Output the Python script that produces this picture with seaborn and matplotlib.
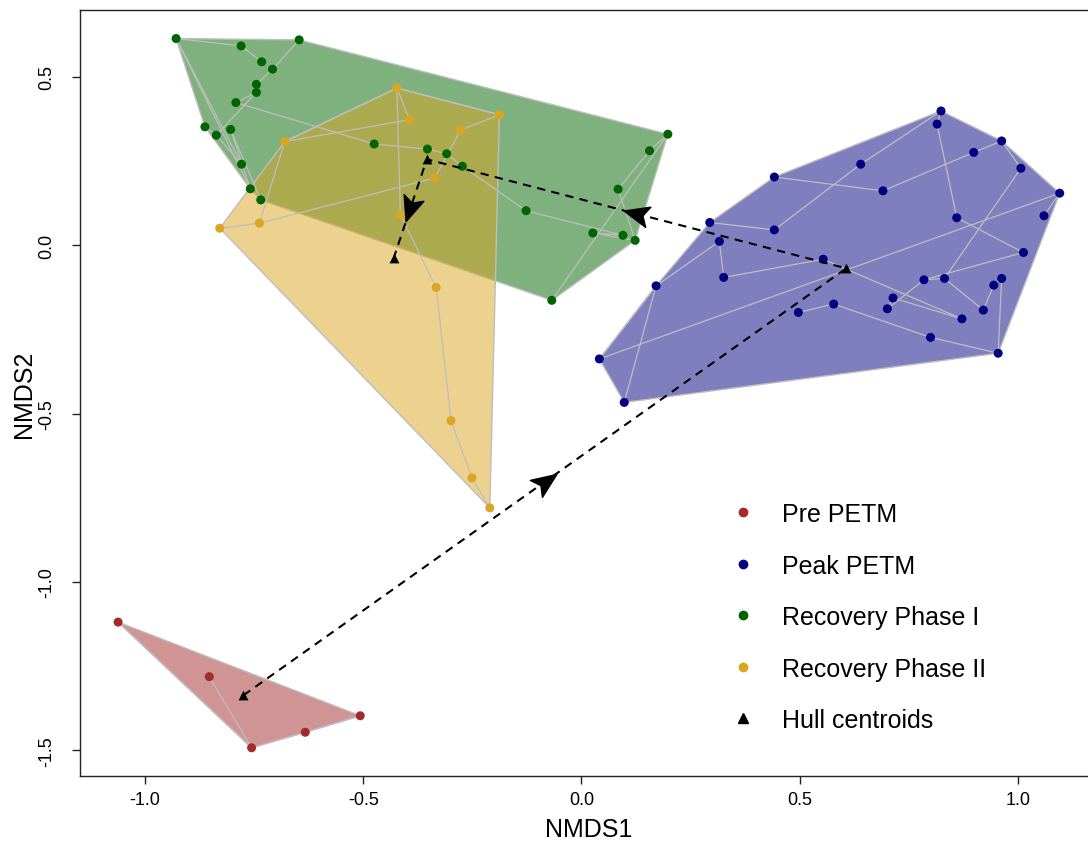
import numpy as np
import pandas as pd
import matplotlib
matplotlib.use("Agg")
import matplotlib.pyplot as plt
import seaborn as sns
from matplotlib.lines import Line2D
from matplotlib.markers import MarkerStyle
from matplotlib.path import Path
from matplotlib.transforms import Affine2D
from matplotlib.colors import to_rgba

# ---------------- data ----------------
groups = ["Pre PETM", "Peak PETM", "Recovery Phase I", "Recovery Phase II"]
colors = ["#A52A2A", "#000080", "#006400", "#DAA520"]

pre_x = [-1.062, -0.853, -0.756, -0.633, -0.507]
pre_y = [-1.119, -1.281, -1.492, -1.446, -1.397]
pre_edges = [(1, 2), (2, 3), (3, 4), (0, 2)]

peak_x = [0.041, 0.098, 0.171, 0.294, 0.316, 0.326, 0.442, 0.442, 0.554, 0.497,
          0.578, 0.824, 0.815, 0.963, 0.899, 1.007, 0.640, 0.691, 1.096, 1.060,
          0.860, 1.013, 0.785, 0.832, 0.963, 0.945, 0.714, 0.701, 0.921, 0.872,
          0.800, 0.955]
peak_y = [-0.338, -0.467, -0.121, 0.067, 0.011, -0.096, 0.202, 0.045, -0.042, -0.200,
          -0.175, 0.398, 0.359, 0.309, 0.275, 0.228, 0.240, 0.161, 0.154, 0.087,
          0.081, -0.022, -0.103, -0.099, -0.099, -0.119, -0.157, -0.189, -0.193, -0.219,
          -0.274, -0.321]
peak_edges = [(3, 7), (7, 16), (6, 17), (16, 11), (11, 12), (12, 20), (20, 21),
              (21, 22), (22, 27), (26, 29), (17, 14), (14, 13), (13, 15), (15, 23),
              (23, 28), (28, 25), (24, 31), (18, 19), (18, 0), (8, 29), (10, 30),
              (30, 31), (9, 10), (5, 8), (4, 5), (2, 4), (1, 2), (24, 25), (26, 27),
              (22, 23), (0, 2)]

rec1_x = [-0.929, -0.780, -0.647, -0.733, -0.708, -0.745, -0.745, -0.792, -0.863, -0.837,
          -0.804, -0.475, -0.779, -0.759, -0.735, -0.353, -0.309, -0.273, -0.127, 0.198,
          0.156, 0.084, 0.026, 0.095, 0.123, -0.068]
rec1_y = [0.613, 0.591, 0.609, 0.544, 0.522, 0.477, 0.453, 0.423, 0.351, 0.326,
          0.343, 0.300, 0.240, 0.167, 0.134, 0.285, 0.271, 0.234, 0.102, 0.329,
          0.280, 0.166, 0.036, 0.029, 0.014, -0.164]
rec1_edges = [(0, 1), (1, 3), (2, 4), (4, 5), (5, 6), (6, 7), (6, 9), (7, 11),
              (11, 15), (0, 12), (9, 12), (8, 9), (10, 13), (10, 14), (0, 13),
              (15, 16), (16, 17), (17, 18), (18, 23), (22, 23), (22, 24), (21, 24),
              (20, 21), (19, 20), (19, 25)]

rec2_x = [-0.423, -0.394, -0.680, -0.188, -0.277, -0.336, -0.415, -0.829, -0.738,
          -0.333, -0.299, -0.251, -0.210]
rec2_y = [0.466, 0.372, 0.307, 0.387, 0.341, 0.199, 0.090, 0.050, 0.065,
          -0.126, -0.521, -0.691, -0.780]
rec2_edges = [(0, 1), (0, 2), (0, 3), (3, 4), (4, 5), (5, 8), (0, 6), (6, 9),
              (9, 10), (10, 11), (11, 12), (7, 8), (2, 8), (1, 2)]

xs = [pre_x, peak_x, rec1_x, rec2_x]
ys = [pre_y, peak_y, rec1_y, rec2_y]
edges = [pre_edges, peak_edges, rec1_edges, rec2_edges]

df = pd.DataFrame({
    "NMDS1": np.concatenate(xs),
    "NMDS2": np.concatenate(ys),
    "group": np.repeat(groups, [len(v) for v in xs]),
})


# ---------------- helpers ----------------
def convex_hull(pts):
    pts = sorted(map(tuple, pts))

    def cross(o, a, b):
        return (a[0] - o[0]) * (b[1] - o[1]) - (a[1] - o[1]) * (b[0] - o[0])

    lower, upper = [], []
    for p in pts:
        while len(lower) >= 2 and cross(lower[-2], lower[-1], p) <= 0:
            lower.pop()
        lower.append(p)
    for p in reversed(pts):
        while len(upper) >= 2 and cross(upper[-2], upper[-1], p) <= 0:
            upper.pop()
        upper.append(p)
    return np.array(lower[:-1] + upper[:-1])


def poly_centroid(h):
    x, y = h[:, 0], h[:, 1]
    x1, y1 = np.roll(x, -1), np.roll(y, -1)
    c = x * y1 - x1 * y
    a = c.sum() / 2
    return np.array([((x + x1) * c).sum() / (6 * a), ((y + y1) * c).sum() / (6 * a)])


# ---------------- figure ----------------
sns.set_style("white")
plt.rcParams["font.family"] = ["Liberation Sans", "DejaVu Sans"]
plt.rcParams["axes.unicode_minus"] = False
plt.rcParams["text.color"] = "black"
plt.rcParams["axes.labelcolor"] = "black"
plt.rcParams["xtick.color"] = "black"
plt.rcParams["ytick.color"] = "black"

fig = plt.figure(figsize=(10.88, 8.45), dpi=100)
ax = fig.add_axes([0.0739, 0.0803, 0.9347, 0.9065])

allx, ally = df["NMDS1"].values, df["NMDS2"].values
rx, ry = np.ptp(allx), np.ptp(ally)
ax.set_xlim(allx.min() - 0.04 * rx, allx.max() + 0.04 * rx)
ax.set_ylim(ally.min() - 0.04 * ry, ally.max() + 0.04 * ry)

centroids = []
for gx, gy, col in zip(xs, ys, colors):
    pts = np.column_stack([gx, gy])
    h = convex_hull(pts)
    ax.fill(h[:, 0], h[:, 1], facecolor=to_rgba(col, 0.5),
            edgecolor="#BEBEBE", linewidth=1.0, zorder=1)
    centroids.append(poly_centroid(h))

for gx, gy, ed in zip(xs, ys, edges):
    for i, j in ed:
        ax.plot([gx[i], gx[j]], [gy[i], gy[j]], color="#BEBEBE", lw=0.9,
                zorder=2, solid_capstyle="round")

sns.scatterplot(data=df, x="NMDS1", y="NMDS2", hue="group", hue_order=groups,
                palette=colors, s=42, linewidth=0, legend=False, ax=ax, zorder=3)

centroids = np.array(centroids)
ax.plot(centroids[:, 0], centroids[:, 1], color="black", lw=1.5,
        linestyle=(0, (4, 3)), zorder=4)
ax.scatter(centroids[:, 0], centroids[:, 1], marker="^", s=50, color="black",
           zorder=5, linewidths=0)

# midpoint arrowheads (stealth style)
stealth = Path([(1.0, 0.0), (-0.8, 0.75), (-0.4, 0.0), (-0.8, -0.75), (1.0, 0.0)],
               [Path.MOVETO, Path.LINETO, Path.LINETO, Path.LINETO, Path.CLOSEPOLY])
for k in range(len(centroids) - 1):
    c0, c1 = centroids[k], centroids[k + 1]
    p0, p1 = ax.transData.transform(c0), ax.transData.transform(c1)
    ang = np.degrees(np.arctan2(p1[1] - p0[1], p1[0] - p0[0]))
    mid = (c0 + c1) / 2
    ms = MarkerStyle(stealth, transform=Affine2D().rotate_deg(ang))
    ax.plot(mid[0], mid[1], marker=ms, ms=20, color="black", ls="none", zorder=6)

# axes styling
ax.set_xticks([-1.0, -0.5, 0.0, 0.5, 1.0])
ax.set_yticks([-1.5, -1.0, -0.5, 0.0, 0.5])
ax.set_xticklabels(["-1.0", "-0.5", "0.0", "0.5", "1.0"])
ax.set_yticklabels(["-1.5", "-1.0", "-0.5", "0.0", "0.5"], rotation=90, va="center")
for lab in ax.get_xticklabels() + ax.get_yticklabels():
    lab.set_fontsize(13)
    lab.set_color("black")
ax.tick_params(axis="x", bottom=True, direction="out", length=6, width=1, pad=5,
               color="#222222")
ax.tick_params(axis="y", left=True, direction="out", length=6, width=1, pad=12,
               color="#222222")
for sp in ax.spines.values():
    sp.set_color("#222222")
    sp.set_linewidth(1.0)
ax.set_xlabel("NMDS1", fontsize=18, labelpad=6, color="black")
ax.set_ylabel("NMDS2", fontsize=18, labelpad=2, color="black")

handles = [Line2D([], [], marker="o", color=c, ls="none", ms=6) for c in colors]
handles.append(Line2D([], [], marker="^", color="black", ls="none", ms=7))
labels = groups + ["Hull centroids"]
leg = fig.legend(handles, labels, loc="upper left",
                 bbox_to_anchor=(730 / 1088, 1 - 503 / 845),
                 frameon=False, fontsize=18, handlelength=1.0, handletextpad=1.1,
                 labelspacing=1.1, borderpad=0, borderaxespad=0)
for t in leg.get_texts():
    t.set_color("black")

fig.savefig("out.png", dpi=100)
